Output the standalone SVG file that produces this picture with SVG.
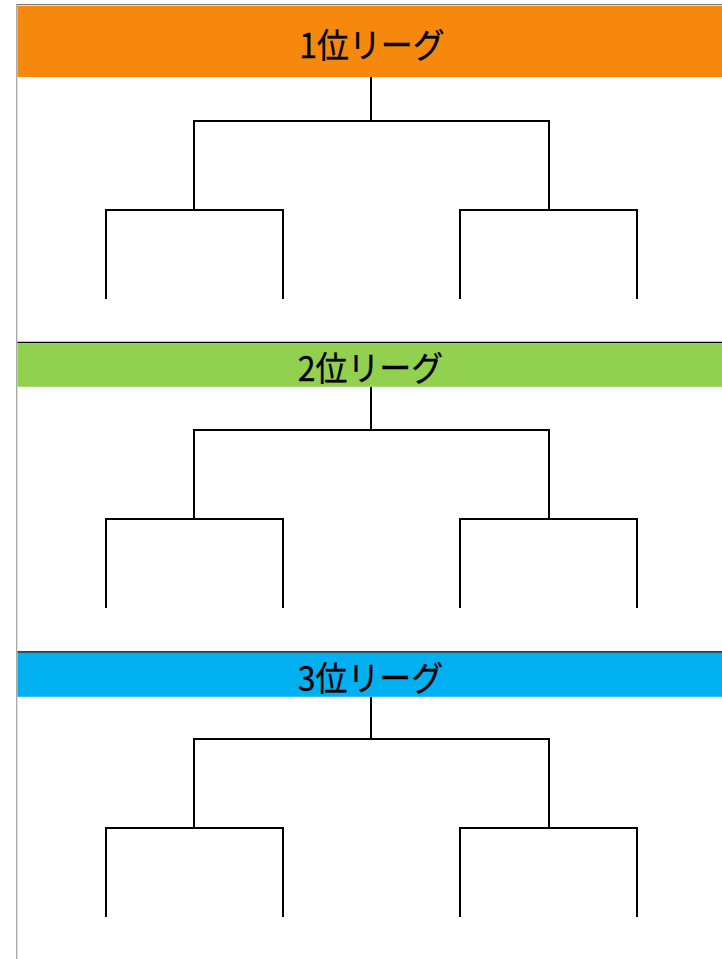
<svg xmlns="http://www.w3.org/2000/svg" width="722" height="959" viewBox="0 0 722 959">
<style>
.t{font-family:"Noto Sans CJK JP","Liberation Sans",sans-serif;font-size:34px;fill:#000;stroke:#000;stroke-width:0.3;text-anchor:middle}
.br{fill:none;stroke:#000;stroke-width:2}
.sep{stroke:#000;stroke-width:1.5}
</style>
<rect width="722" height="959" fill="#fff"/>
<g id="frame">
<line x1="16" y1="4.5" x2="722" y2="4.5" stroke="#777" stroke-width="1.2"/>
<line x1="16.7" y1="4" x2="16.7" y2="959" stroke="#aaa" stroke-width="1.4"/>
</g>
<g id="league1">
<rect x="17.5" y="5.7" width="704.5" height="71.3" fill="#F6880E"/>
<text class="t" transform="translate(372 58) scale(0.94 1)">1位リーグ</text>
</g>
<g id="league2">
<line class="sep" x1="17.5" y1="342.5" x2="722" y2="342.5"/>
<rect x="17.5" y="343.3" width="704.5" height="43.5" fill="#92D050"/>
<text class="t" transform="translate(370.5 381) scale(0.94 1)">2位リーグ</text>
</g>
<g id="league3">
<line class="sep" x1="17.5" y1="652" x2="722" y2="652"/>
<rect x="17.5" y="652.8" width="704.5" height="44" fill="#00B0F0"/>
<text class="t" transform="translate(370.5 691) scale(0.94 1)">3位リーグ</text>
</g>
<g id="connectors">
<path class="br" d="M371 77V121M194 210V121H549V210M106 299V210H283V299M460 299V210H637V299"/>
<path class="br" d="M371 387V430M194 519V430H549V519M106 608V519H283V608M460 608V519H637V608"/>
<path class="br" d="M371 697V739M194 828V739H549V828M106 917V828H283V917M460 917V828H637V917"/>
</g>
</svg>
